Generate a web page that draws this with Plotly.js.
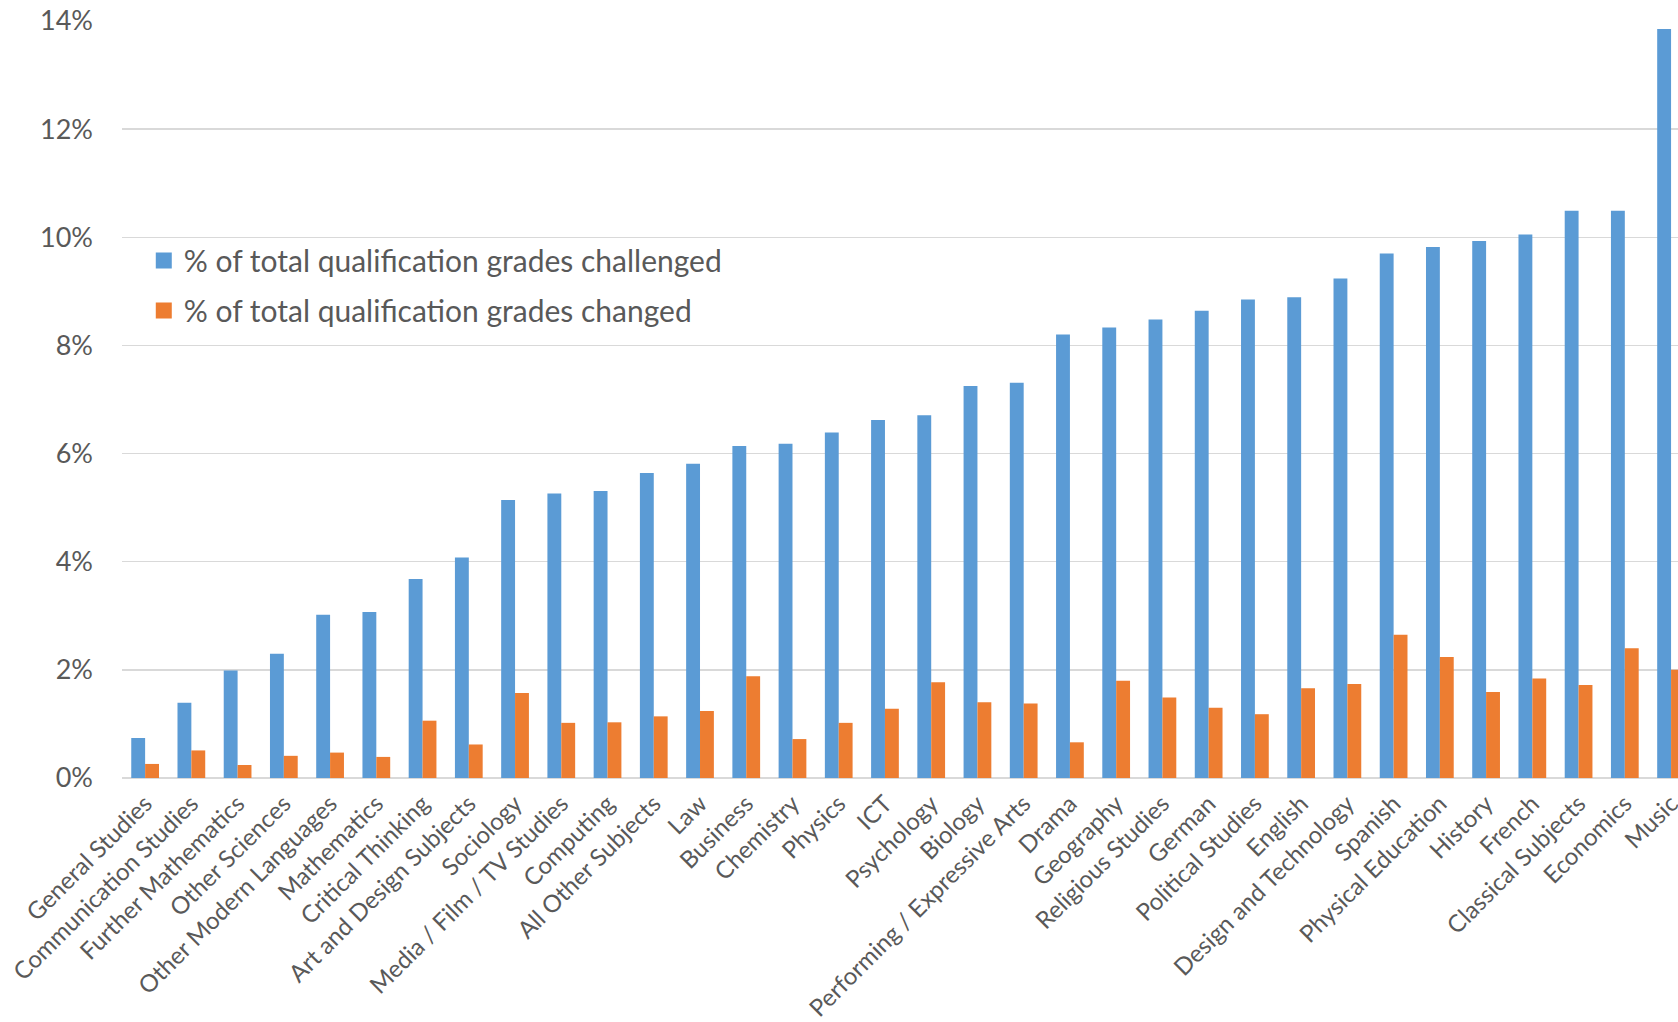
<!DOCTYPE html>
<html>
<head>
<meta charset="utf-8">
<script src="https://cdn.plot.ly/plotly-3.0.1.min.js"></script>
<style>html,body{margin:0;padding:0;background:#fff;}#chart{width:1678px;height:1022px;}</style>
</head>
<body>
<div id="chart"></div>
<script>
const subjects = ["General Studies","Communication Studies","Further Mathematics","Other Sciences","Other Modern Languages","Mathematics","Critical Thinking","Art and Design Subjects","Sociology","Media / Film / TV Studies","Computing","All Other Subjects","Law","Business","Chemistry","Physics","ICT","Psychology","Biology","Performing / Expressive Arts","Drama","Geography","Religious Studies","German","Political Studies","English","Design and Technology","Spanish","Physical Education","History","French","Classical Subjects","Economics","Music"];
const challenged = [0.74,1.39,1.99,2.30,3.02,3.07,3.68,4.08,5.14,5.26,5.31,5.64,5.81,6.14,6.18,6.39,6.62,6.71,7.25,7.31,8.20,8.33,8.48,8.64,8.85,8.89,9.24,9.70,9.82,9.93,10.05,10.49,10.49,13.85];
const changed = [0.26,0.51,0.24,0.41,0.47,0.39,1.06,0.62,1.57,1.02,1.03,1.14,1.24,1.88,0.72,1.02,1.28,1.77,1.40,1.38,0.66,1.80,1.49,1.30,1.18,1.66,1.74,2.65,2.24,1.59,1.84,1.72,2.40,2.00];
const seriesNames = ["% of total qualification grades challenged","% of total qualification grades changed"];

const FONT = "Lato, 'Open Sans', sans-serif";
const GRAY = "#595959";

const data = [
  {type:'bar', x:subjects, y:challenged, name:seriesNames[0], legendgroup:'a', marker:{color:'#5B9BD5'}, hoverinfo:'x+y'},
  {type:'bar', x:subjects, y:changed, name:seriesNames[1], legendgroup:'b', marker:{color:'#ED7D31'}, hoverinfo:'x+y'}
];

const layout = {
  width:1678, height:1022,
  margin:{l:122, r:0, t:21, b:244},
  paper_bgcolor:'#ffffff', plot_bgcolor:'#ffffff',
  barmode:'group', bargap:0.4, bargroupgap:0,
  font:{family:FONT, color:GRAY},
  showlegend:true,
  legend:{x:0.014, y:0.718, xanchor:'left', yanchor:'top', bgcolor:'rgba(0,0,0,0)',
          font:{family:FONT, size:30, color:GRAY}, tracegroupgap:8, traceorder:'grouped'},
  xaxis:{type:'category', range:[-0.5, 33.15], tickangle:-45, showgrid:false, zeroline:false,
         showline:false, ticks:'', tickfont:{family:FONT, size:24, color:GRAY}, ticklabelstandoff:6, automargin:false},
  yaxis:{range:[0,14], dtick:2, ticksuffix:'%', showgrid:true, gridcolor:'#d9d9d9', gridwidth:1.5,
         zeroline:true, zerolinecolor:'#d9d9d9', zerolinewidth:1.5, showline:false, ticks:'',
         tickfont:{family:FONT, size:27, color:GRAY}, ticklabelstandoff:28, automargin:false}
};

Plotly.newPlot('chart', data, layout, {displayModeBar:false, staticPlot:true}).then(function(){
  document.querySelectorAll('#chart .legendpoints path').forEach(function(p){
    p.setAttribute('d', 'M8,8H-8V-8H8Z');
  });
});
</script>
</body>
</html>
